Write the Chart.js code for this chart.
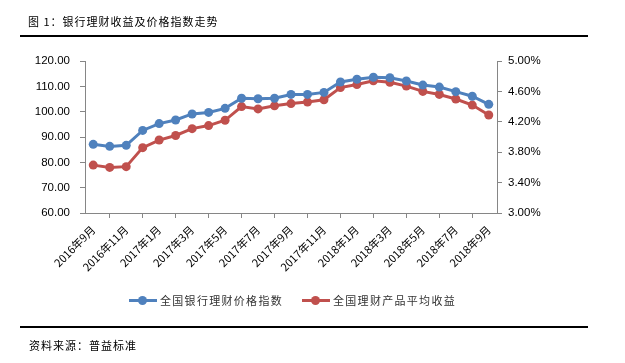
<!DOCTYPE html>
<html>
<head>
<meta charset="utf-8">
<script src="https://cdn.jsdelivr.net/npm/chart.js@4/dist/chart.umd.min.js"></script>
<style>
  html, body { margin: 0; padding: 0; background: #fff; }
  body { width: 625px; height: 363px; position: relative; overflow: hidden; font-family: "Noto Sans CJK SC", sans-serif; }
  #wrap { position: absolute; left: 0; top: 0; width: 625px; height: 363px; }
  .txt { position: absolute; font-size: 11px; line-height: 14px; color: #000; letter-spacing: 1px; white-space: nowrap; }
  .rule { position: absolute; left: 20px; width: 568px; height: 2px; background: #000; }
  .leg { position: absolute; top: 293px; height: 14px; font-size: 11px; line-height: 14px; color: #333; letter-spacing: 1.3px; white-space: nowrap; }
  .leg .ln { position: absolute; left: 0; top: 6px; width: 28px; height: 3px; }
  .leg .dot { position: absolute; left: 9px; top: 3px; width: 9px; height: 9px; border-radius: 50%; }
  .leg .lt { position: absolute; left: 31px; top: 0; }
</style>
</head>
<body>
<div id="wrap"><canvas id="c" width="625" height="363"></canvas></div>
<div class="txt" style="left:28px; top:14px;">图 1：银行理财收益及价格指数走势</div>
<div class="rule" style="top:35px;"></div>
<div class="rule" style="top:326px;"></div>
<div class="txt" style="left:29px; top:338px;">资料来源：普益标准</div>
<div class="leg" style="left:129px;"><div class="ln" style="background:#4F81BD"></div><div class="dot" style="background:#4F81BD"></div><div class="lt">全国银行理财价格指数</div></div>
<div class="leg" style="left:302px;"><div class="ln" style="background:#C0504D"></div><div class="dot" style="background:#C0504D"></div><div class="lt">全国理财产品平均收益</div></div>
<script>
const categories = ["2016年9月","2016年10月","2016年11月","2016年12月","2017年1月","2017年2月","2017年3月","2017年4月","2017年5月","2017年6月","2017年7月","2017年8月","2017年9月","2017年10月","2017年11月","2017年12月","2018年1月","2018年2月","2018年3月","2018年4月","2018年5月","2018年6月","2018年7月","2018年8月","2018年9月"];
const priceIndex = [87.1, 86.3, 86.7, 92.6, 95.3, 96.7, 99.1, 99.7, 101.3, 105.3, 105.1, 105.3, 106.8, 106.8, 107.6, 111.7, 112.8, 113.6, 113.4, 112.1, 110.5, 109.7, 107.9, 106.1, 102.9];
const avgYield = [3.63, 3.60, 3.61, 3.86, 3.96, 4.02, 4.11, 4.15, 4.22, 4.40, 4.37, 4.41, 4.44, 4.46, 4.49, 4.65, 4.69, 4.74, 4.72, 4.67, 4.60, 4.56, 4.50, 4.42, 4.29];
const seriesNames = ["全国银行理财价格指数", "全国理财产品平均收益"];
const leftTicks = { min: 60, max: 120, step: 10 };
const rightTicks = { min: 3.0, max: 5.0, step: 0.4 };

const axisColor = '#868686';
const numFont = { family: '"Liberation Sans", Arial, sans-serif', size: 11.5 };
const xFont = { family: '"Noto Sans CJK SC", sans-serif', size: 11 };

new Chart(document.getElementById('c'), {
  type: 'line',
  data: {
    labels: categories,
    datasets: [
      { label: seriesNames[0], data: priceIndex, yAxisID: 'y', borderColor: '#4F81BD', backgroundColor: '#4F81BD',
        borderWidth: 3, pointRadius: 4.5, pointHoverRadius: 4.5, pointBorderWidth: 0, tension: 0 },
      { label: seriesNames[1], data: avgYield, yAxisID: 'y1', borderColor: '#C0504D', backgroundColor: '#C0504D',
        borderWidth: 3, pointRadius: 4.5, pointHoverRadius: 4.5, pointBorderWidth: 0, tension: 0 }
    ]
  },
  options: {
    responsive: false,
    animation: false,
    devicePixelRatio: 1,
    layout: { padding: { top: 61, bottom: 90, left: 0, right: 0 } },
    plugins: { legend: { display: false }, tooltip: { enabled: false } },
    scales: {
      x: {
        type: 'category',
        offset: true,
        grid: { offset: true, drawOnChartArea: false, drawTicks: true, tickLength: 5, color: axisColor },
        border: { color: axisColor, width: 1 },
        ticks: {
          autoSkip: false, maxRotation: 45, minRotation: 45, padding: 5, color: '#000', font: xFont,
          callback: function(v, i) { return i % 2 === 0 ? this.getLabelForValue(v) : null; }
        },
        afterFit: s => { s.height = 60; }
      },
      y: {
        position: 'left', min: leftTicks.min, max: leftTicks.max,
        grid: { drawOnChartArea: false, drawTicks: true, tickLength: 5, color: axisColor },
        border: { color: axisColor, width: 1 },
        ticks: { stepSize: leftTicks.step, padding: 10, color: '#000', font: numFont, callback: v => Number(v).toFixed(2) },
        afterFit: s => { s.width = 85; }
      },
      y1: {
        position: 'right', min: rightTicks.min, max: rightTicks.max,
        grid: { drawOnChartArea: false, drawTicks: true, tickLength: 5, color: axisColor },
        border: { color: axisColor, width: 1 },
        ticks: { stepSize: rightTicks.step, padding: 6, color: '#000', font: numFont, callback: v => Number(v).toFixed(2) + '%' },
        afterFit: s => { s.width = 128; }
      }
    }
  }
});
</script>
</body>
</html>
